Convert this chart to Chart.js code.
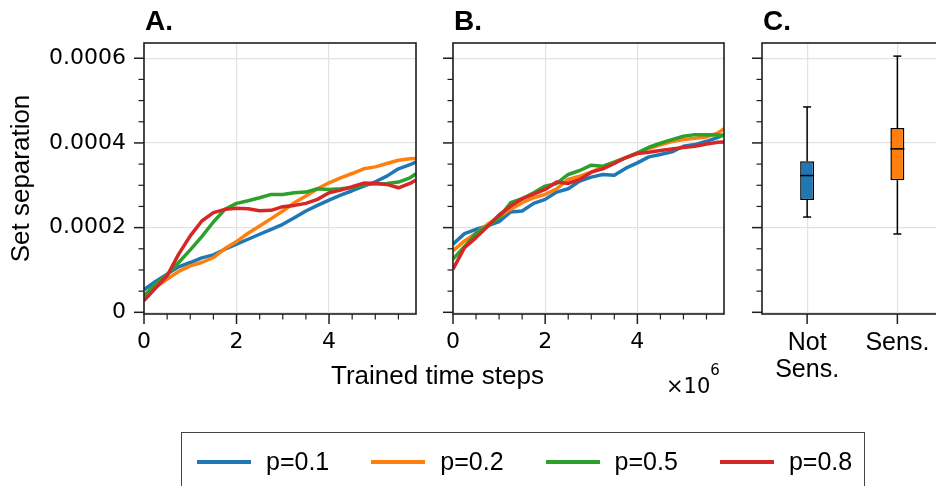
<!DOCTYPE html>
<html>
<head>
<meta charset="utf-8">
<script src="https://cdn.jsdelivr.net/npm/chart.js@4.4.1/dist/chart.umd.min.js"></script>
<style>
  html, body { margin: 0; padding: 0; background: #fff; }
  body { width: 936px; height: 486px; overflow: hidden; position: relative; }
  canvas { position: absolute; top: 0; }
  .txt { position: absolute; color: #000; white-space: nowrap; }
  #legend { position: absolute; left: 181px; top: 432px; width: 684px; height: 70px; border: 1.5px solid #444; box-sizing: border-box; }
  .sw { position: absolute; height: 4px; width: 54px; }
  .lt { position: absolute; font: 25px "Liberation Sans", Arial, sans-serif; line-height: 30px; color: #000; }
</style>
</head>
<body>
<canvas id="cA" width="430" height="486" style="left:0px"></canvas>
<canvas id="cB" width="300" height="486" style="left:431px"></canvas>
<canvas id="cC" width="210" height="486" style="left:745px"></canvas>
<div class="txt" id="xlabel" style="left:331px; top:360px; font:26px 'Liberation Sans', Arial, sans-serif; line-height:30px;">Trained time steps</div>
<div class="txt" id="offset" style="left:666px; top:374px; font:21px 'DejaVu Sans', sans-serif; line-height:24px;">×10<span style="font-size:15px; position:relative; top:-18px;">6</span></div>
<div id="legend"></div>
<script>
// ---------------- data ----------------
const seriesNames = ['p=0.1', 'p=0.2', 'p=0.5', 'p=0.8'];
const seriesColors = ['#1f77b4', '#ff7f0e', '#2ca02c', '#d62728'];

const xSteps = [0, 250000, 500000, 750000, 1000000, 1250000, 1500000, 1750000, 2000000, 2250000, 2500000, 2750000, 3000000, 3250000, 3500000, 3750000, 4000000, 4250000, 4500000, 4750000, 5000000, 5250000, 5500000, 5750000, 5880000];

// Panel A
const aP01 = [0.0000533, 0.0000729, 0.0000902, 0.0001075, 0.0001176, 0.0001286, 0.0001357, 0.0001490, 0.0001608, 0.0001725, 0.0001843, 0.0001961, 0.0002078, 0.0002235, 0.0002392, 0.0002525, 0.0002651, 0.0002769, 0.0002871, 0.0002980, 0.0003082, 0.0003216, 0.0003388, 0.0003490, 0.0003545];
const aP02 = [0.0000392, 0.0000588, 0.0000784, 0.0000965, 0.0001098, 0.0001176, 0.0001294, 0.0001506, 0.0001671, 0.0001867, 0.0002039, 0.0002212, 0.0002392, 0.0002588, 0.0002745, 0.0002918, 0.0003059, 0.0003176, 0.0003278, 0.0003388, 0.0003435, 0.0003514, 0.0003592, 0.0003624, 0.0003631];
const aP05 = [0.0000392, 0.0000667, 0.0000886, 0.0001176, 0.0001475, 0.0001788, 0.0002133, 0.0002431, 0.0002573, 0.0002635, 0.0002706, 0.0002784, 0.0002784, 0.0002824, 0.0002839, 0.0002918, 0.0002902, 0.0002918, 0.0002949, 0.0003012, 0.0003035, 0.0003043, 0.0003075, 0.0003176, 0.0003271];
const aP08 = [0.0000275, 0.0000573, 0.0000863, 0.0001373, 0.0001804, 0.0002157, 0.0002353, 0.0002431, 0.0002455, 0.0002447, 0.0002400, 0.0002408, 0.0002494, 0.0002525, 0.0002573, 0.0002667, 0.0002824, 0.0002886, 0.0002965, 0.0003051, 0.0003043, 0.0003020, 0.0002941, 0.0003043, 0.0003122];

// Panel B
const bP01 = [0.0001608, 0.0001859, 0.0001961, 0.0002039, 0.0002141, 0.0002369, 0.0002392, 0.0002573, 0.0002667, 0.0002839, 0.0002918, 0.0003098, 0.0003192, 0.0003255, 0.0003239, 0.0003404, 0.0003529, 0.0003671, 0.0003725, 0.0003788, 0.0003922, 0.0003961, 0.0004039, 0.0004133, 0.0004196];
const bP02 = [0.0001451, 0.0001686, 0.0001867, 0.0002078, 0.0002259, 0.0002431, 0.0002588, 0.0002706, 0.0002784, 0.0002918, 0.0003137, 0.0003216, 0.0003310, 0.0003435, 0.0003545, 0.0003647, 0.0003765, 0.0003867, 0.0003953, 0.0004031, 0.0004078, 0.0004110, 0.0004141, 0.0004235, 0.0004337];
const bP05 = [0.0001255, 0.0001553, 0.0001867, 0.0002039, 0.0002235, 0.0002588, 0.0002682, 0.0002824, 0.0002980, 0.0003043, 0.0003255, 0.0003349, 0.0003475, 0.0003451, 0.0003545, 0.0003655, 0.0003765, 0.0003898, 0.0003992, 0.0004078, 0.0004157, 0.0004196, 0.0004196, 0.0004188, 0.0004173];
const bP08 = [0.0001020, 0.0001529, 0.0001765, 0.0002024, 0.0002298, 0.0002510, 0.0002682, 0.0002792, 0.0002902, 0.0003075, 0.0003043, 0.0003137, 0.0003310, 0.0003388, 0.0003514, 0.0003655, 0.0003749, 0.0003780, 0.0003820, 0.0003859, 0.0003890, 0.0003922, 0.0003976, 0.0004016, 0.0004024];

// Panel C (box plot)
const boxCategories = [['Not', 'Sens.'], 'Sens.'];
const boxColors = ['#1f77b4', '#ff7f0e'];
const whiskerLow = [0.000225, 0.000185];
const boxQ1 = [0.000265, 0.000312];
const boxMedian = [0.000323, 0.000386];
const boxQ3 = [0.000357, 0.000435];
const whiskerHigh = [0.000485, 0.000605];

// Ticks
const xMajor = [0, 2000000, 4000000];
const xTickLabels = ['0', '2', '4'];
const xMinor = [500000, 1000000, 1500000, 2500000, 3000000, 3500000, 4500000, 5000000, 5500000];
const yMajor = [0, 0.0002, 0.0004, 0.0006];
const yTickLabels = ['0', '0.0002', '0.0004', '0.0006'];
const yMinor = [0.00005, 0.0001, 0.00015, 0.00025, 0.0003, 0.00035, 0.00045, 0.0005, 0.00055];

const X_MAX = 5880000;
const Y_MIN = -0.000004;
const Y_MAX = 0.000636;

// ---------------- helpers ----------------
Chart.defaults.color = '#000';
Chart.defaults.animation = false;

const GRID = '#e2e2e2';
const INK = '#1e1e1e';

const decorPlugin = {
  id: 'decor',
  afterDraw(chart, args, opts) {
    const { ctx, chartArea: a, scales } = chart;
    ctx.save();
    ctx.strokeStyle = INK;
    const tickX = (vals, len, lw) => {
      ctx.lineWidth = lw;
      vals.forEach(v => {
        const px = scales.x.getPixelForValue(v);
        ctx.beginPath(); ctx.moveTo(px, a.bottom); ctx.lineTo(px, a.bottom + len); ctx.stroke();
      });
    };
    const tickY = (vals, len, lw) => {
      ctx.lineWidth = lw;
      vals.forEach(v => {
        const py = scales.y.getPixelForValue(v);
        ctx.beginPath(); ctx.moveTo(a.left, py); ctx.lineTo(a.left - len, py); ctx.stroke();
      });
    };
    tickX(opts.xMajor, 10, 1.5);
    tickX(opts.xMinor, 5.5, 1.2);
    tickY(opts.yMajor, 10, 1.5);
    tickY(opts.yMinor, 5.5, 1.2);
    ctx.lineWidth = 1.6;
    ctx.strokeRect(a.left, a.top, a.right - a.left, a.bottom - a.top);
    ctx.fillStyle = '#000';
    ctx.font = 'bold 28px "Liberation Sans", Arial, sans-serif';
    ctx.textBaseline = 'alphabetic';
    ctx.textAlign = 'left';
    ctx.fillText(opts.title, a.left + 1, 30);
    ctx.restore();
  }
};

const boxPlugin = {
  id: 'boxparts',
  afterDatasetsDraw(chart) {
    const { ctx, scales } = chart;
    const meta = chart.getDatasetMeta(0);
    ctx.save();
    ctx.strokeStyle = '#000';
    ctx.lineWidth = 1.5;
    meta.data.forEach((bar, i) => {
      const x = bar.x, w = bar.width;
      const yS = scales.y;
      const seg = (x1, y1, x2, y2) => { ctx.beginPath(); ctx.moveTo(x1, y1); ctx.lineTo(x2, y2); ctx.stroke(); };
      seg(x, yS.getPixelForValue(boxQ3[i]), x, yS.getPixelForValue(whiskerHigh[i]));
      seg(x, yS.getPixelForValue(boxQ1[i]), x, yS.getPixelForValue(whiskerLow[i]));
      seg(x - 4, yS.getPixelForValue(whiskerHigh[i]), x + 4, yS.getPixelForValue(whiskerHigh[i]));
      seg(x - 4, yS.getPixelForValue(whiskerLow[i]), x + 4, yS.getPixelForValue(whiskerLow[i]));
      seg(x - w / 2, yS.getPixelForValue(boxMedian[i]), x + w / 2, yS.getPixelForValue(boxMedian[i]));
    });
    ctx.restore();
  }
};

function yScale(showLabels, width, withTitle) {
  return {
    type: 'linear', min: Y_MIN, max: Y_MAX,
    afterBuildTicks: s => { s.ticks = yMajor.map(v => ({ value: v })); },
    afterFit: s => { s.width = width; },
    grid: { color: GRID, lineWidth: 1.2, drawTicks: false },
    border: { display: false },
    ticks: {
      display: showLabels, padding: 18,
      font: { family: '"DejaVu Sans", sans-serif', size: 22 },
      callback: (v, i) => yTickLabels[i]
    },
    title: {
      display: !!withTitle, text: 'Set separation',
      font: { family: '"Liberation Sans", Arial, sans-serif', size: 26 },
      padding: { top: 6, bottom: 0 }
    }
  };
}

function xLinear() {
  return {
    type: 'linear', min: 0, max: X_MAX,
    afterBuildTicks: s => { s.ticks = xMajor.map(v => ({ value: v })); },
    afterFit: s => { s.height = 172; },
    grid: { color: GRID, lineWidth: 1.2, drawTicks: false },
    border: { display: false },
    ticks: {
      padding: 15, maxRotation: 0,
      font: { family: '"DejaVu Sans", sans-serif', size: 22 },
      callback: (v, i) => xTickLabels[i]
    }
  };
}

function lineDatasets(series) {
  return series.map((vals, k) => ({
    label: seriesNames[k],
    data: xSteps.map((x, i) => ({ x: x, y: vals[i] })),
    borderColor: seriesColors[k],
    backgroundColor: seriesColors[k],
    borderWidth: 3.5,
    pointRadius: 0,
    tension: 0,
    borderJoinStyle: 'round',
    order: series.length - k
  }));
}

function lineChart(id, series, title, yWidth, showY, rightPad) {
  return new Chart(document.getElementById(id), {
    type: 'line',
    data: { datasets: lineDatasets(series) },
    options: {
      responsive: false,
      layout: { padding: { top: 43, right: rightPad, left: 0, bottom: 0 } },
      plugins: {
        legend: { display: false }, tooltip: { enabled: false },
        decor: { title: title, xMajor: xMajor, xMinor: xMinor, yMajor: yMajor, yMinor: yMinor }
      },
      scales: { x: xLinear(), y: yScale(showY, yWidth, showY) }
    },
    plugins: [decorPlugin]
  });
}

lineChart('cA', [aP01, aP02, aP05, aP08], 'A.', 144, true, 14);
lineChart('cB', [bP01, bP02, bP05, bP08], 'B.', 22, false, 7);

new Chart(document.getElementById('cC'), {
  type: 'bar',
  data: {
    labels: boxCategories,
    datasets: [{
      data: boxQ1.map((q, i) => [q, boxQ3[i]]),
      backgroundColor: boxColors,
      borderColor: '#000',
      borderWidth: 1.5,
      borderSkipped: false,
      barPercentage: 0.155,
      categoryPercentage: 1
    }]
  },
  options: {
    responsive: false,
    layout: { padding: { top: 43, right: 12.5, left: 0, bottom: 0 } },
    plugins: {
      legend: { display: false }, tooltip: { enabled: false },
      decor: { title: 'C.', xMajor: [0, 1], xMinor: [], yMajor: yMajor, yMinor: yMinor }
    },
    scales: {
      x: {
        type: 'category', offset: true,
        afterFit: s => { s.height = 172; },
        grid: { color: GRID, lineWidth: 1.2, drawTicks: false, offset: false },
        border: { display: false },
        ticks: {
          padding: 16, maxRotation: 0,
          font: { family: '"Liberation Sans", Arial, sans-serif', size: 25, lineHeight: 1.08 }
        }
      },
      y: yScale(false, 17, false)
    }
  },
  plugins: [decorPlugin, boxPlugin]
});

// Legend (HTML, built from the series arrays)
const leg = document.getElementById('legend');
seriesNames.forEach((name, k) => {
  const sw = document.createElement('div');
  sw.className = 'sw';
  sw.style.background = seriesColors[k];
  sw.style.left = (196 - 181 + k * 174.3) + 'px';
  sw.style.top = '27px';
  leg.appendChild(sw);
  const t = document.createElement('div');
  t.className = 'lt';
  t.textContent = name;
  t.style.left = (265 - 181 + k * 174.3) + 'px';
  t.style.top = '13px';
  leg.appendChild(t);
});
</script>
</body>
</html>
